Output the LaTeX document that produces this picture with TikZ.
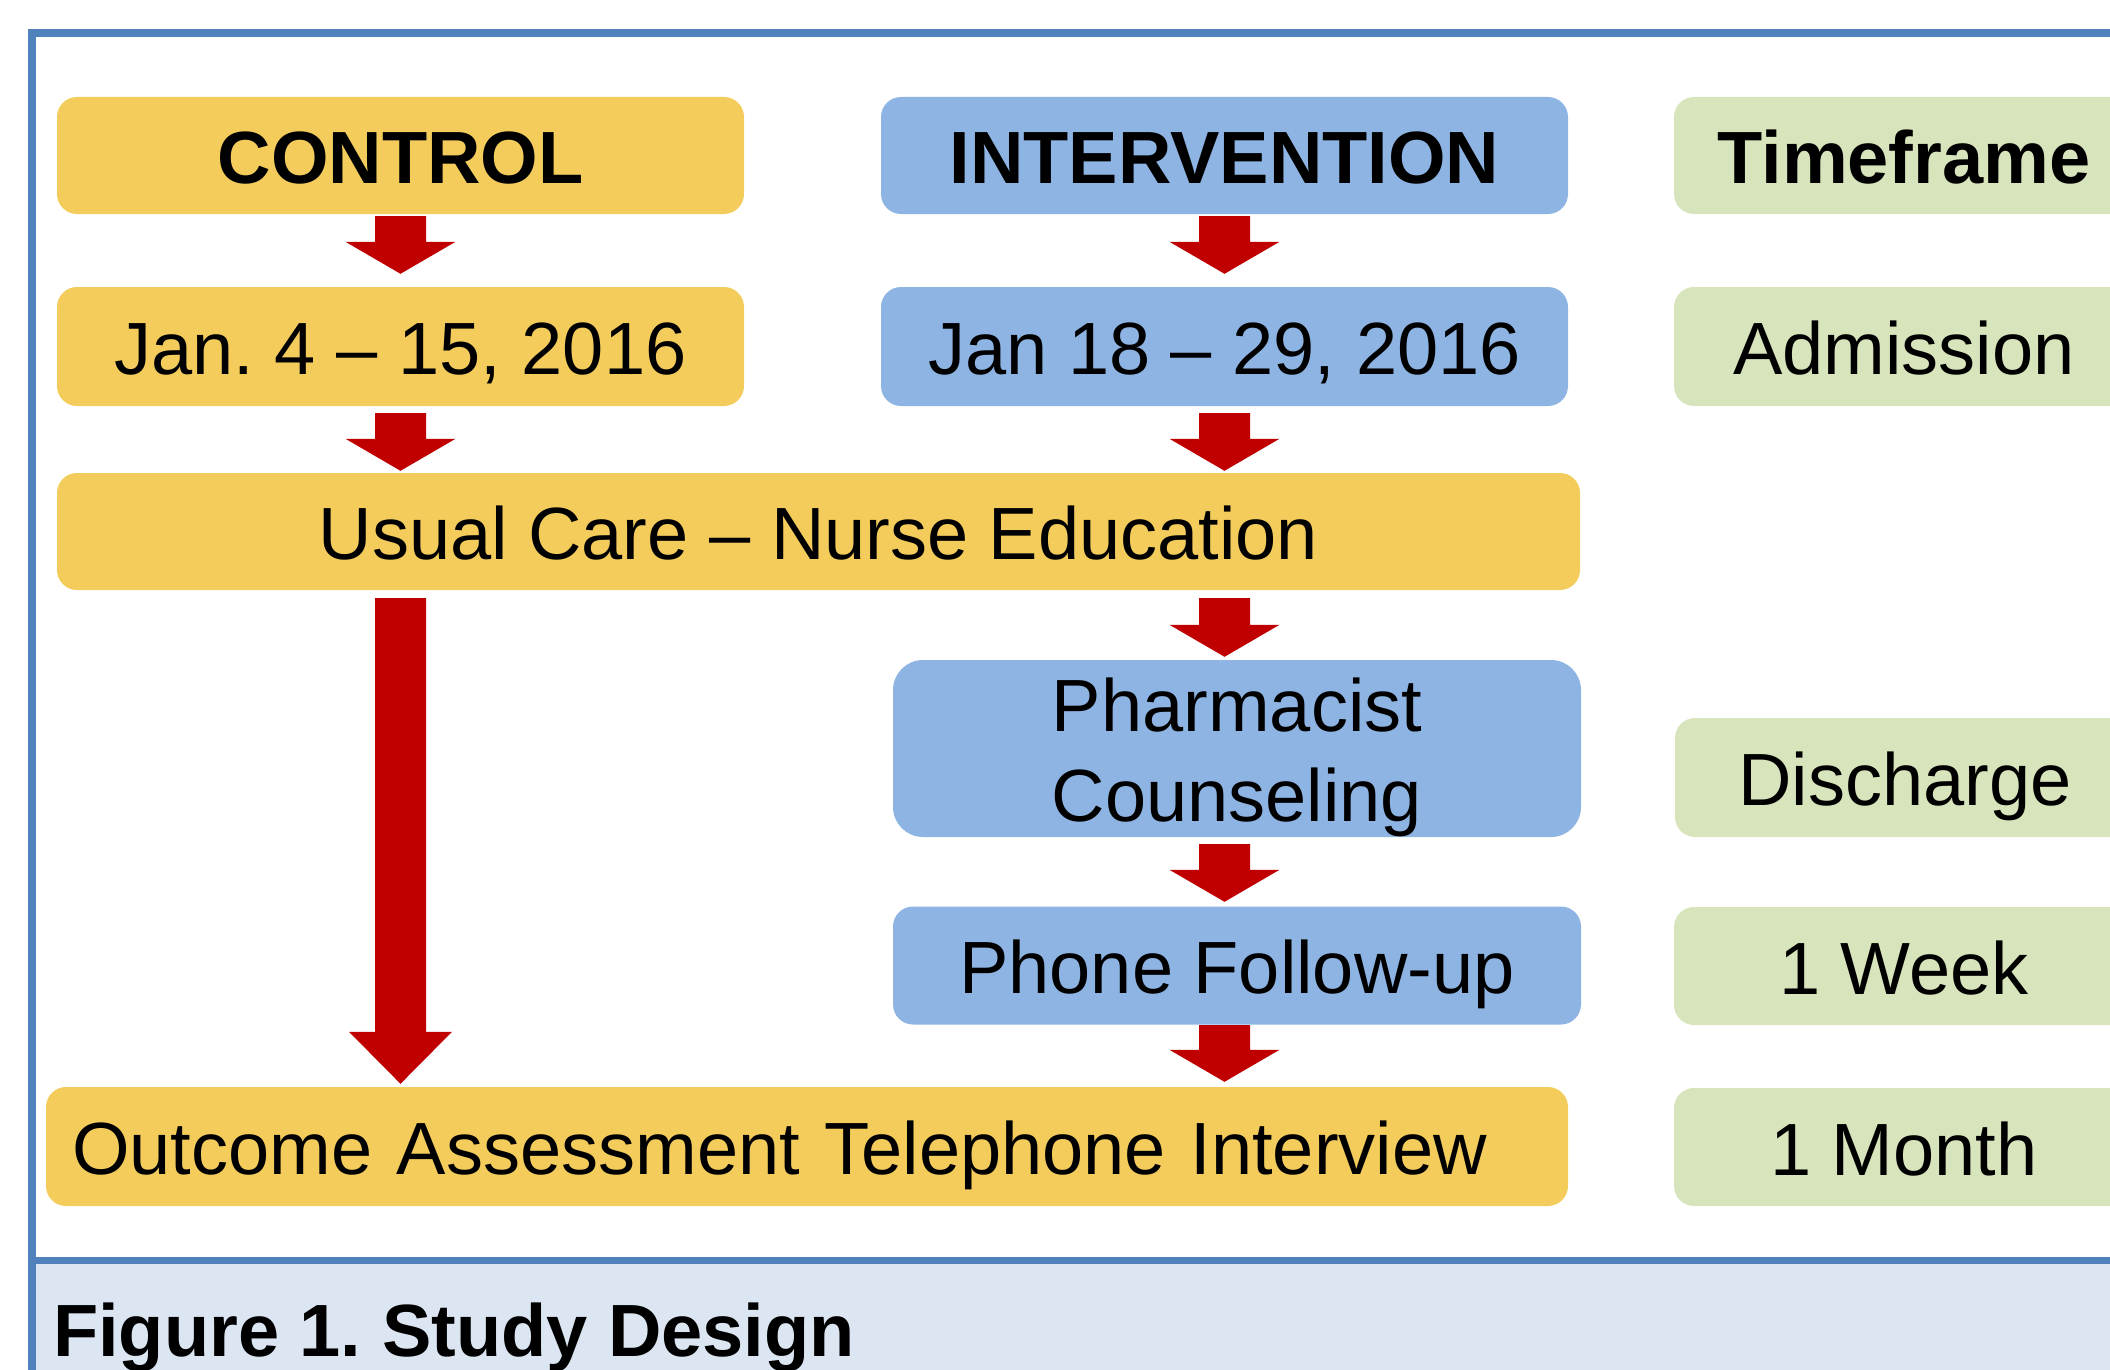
\documentclass[tikz,border=0pt]{standalone}
\usepackage{fontspec}
\setmainfont{Liberation Sans}
\usetikzlibrary{calc}
\frenchspacing

\definecolor{ctrlyellow}{HTML}{F3CC5C}
\definecolor{intblue}{HTML}{8EB4E3}
\definecolor{timegreen}{HTML}{D8E4BC}
\definecolor{arrowred}{HTML}{C00000}
\definecolor{frameblue}{HTML}{4F81BD}
\definecolor{captionbg}{HTML}{DCE6F2}

\tikzset{
  bigfont/.style={font=\fontsize{74}{90}\selectfont},
  box/.style={bigfont, rounded corners=20pt, inner sep=0pt, draw=none,
              text height=56pt, text depth=0pt},
  ctrlbox/.style={box, fill=ctrlyellow},
  intbox/.style={box, fill=intblue},
  timebox/.style={box, fill=timegreen, minimum width=460pt},
  headtext/.style={font=\fontsize{74}{90}\selectfont\bfseries},
  arrowfill/.style={fill=arrowred, draw=none},
}

% block arrow: #1 column coordinate, #2 source node, #3 target node,
% #4 gap below source, #5 gap above target, #6 head half width, #7 head length
\newcommand{\redarrow}[7]{%
  \fill[arrowfill] let \p1=(#2.south -| #1), \p2=(#3.north -| #1) in
    (\x1-25.5pt,\y1-#4pt) -- (\x1+25.5pt,\y1-#4pt)
    -- (\x1+25.5pt,\y2+#5pt+#7pt) -- (\x1+#6pt,\y2+#5pt+#7pt)
    -- (\x1,\y2+#5pt)
    -- (\x1-#6pt,\y2+#5pt+#7pt) -- (\x1-25.5pt,\y2+#5pt+#7pt) -- cycle;
}

\begin{document}
\begin{tikzpicture}[x=1pt, y=-1pt]
  \useasboundingbox (0,0) rectangle (2110,1370);
  \clip (0,0) rectangle (2110,1370);

  % caption band and frame
  \fill[captionbg] (36,1264) rectangle (2110,1370);
  \draw[frameblue, line width=8pt] (32,1375) -- (32,33.5) -- (2115,33.5);
  \draw[frameblue, line width=7pt] (32,1260.5) -- (2115,1260.5);

  % column anchors for the arrows
  \coordinate (colC) at (400.5,0);
  \coordinate (colI) at (1224.5,0);

  % control column
  \node[ctrlbox, headtext, minimum width=687pt, minimum height=117pt] (control) at (400.5,155.5) {CONTROL};
  \node[ctrlbox, minimum width=687pt, minimum height=119pt] (jan4) at (400.5,346.5) {Jan. 4 -- 15, 2016};

  % intervention column
  \node[intbox, headtext, minimum width=687pt, minimum height=117pt] (interv) at (1224.5,155.5) {INTERVENTION};
  \node[intbox, minimum width=687pt, minimum height=119pt] (jan18) at (1224.5,346.5) {Jan 18 -- 29, 2016};

  % shared usual care
  \node[ctrlbox, minimum width=1523pt, minimum height=117pt] (usual) at (818.5,531.5) {Usual Care -- Nurse Education};

  \node[intbox, rounded corners=30pt, minimum width=688pt, minimum height=177pt,
        text width=680pt, align=center, text height=20pt, text depth=55pt] (pharm) at (1237,748.5) {Pharmacist\\Counseling};
  \node[intbox, minimum width=688pt, minimum height=118pt] (phone) at (1237,965.5) {Phone Follow-up};

  \node[ctrlbox, minimum width=1522pt, minimum height=119pt, inner xsep=26pt,
        text width=1470pt, align=left] (outcome) at (807,1146.5) {Outcome Assessment Telephone Interview};

  % timeframe column
  \node[timebox, headtext, minimum height=117pt] (tf) at (1904,155.5) {Timeframe};
  \node[timebox, minimum height=119pt] (adm) at (1904,346.5) {Admission};
  \node[timebox, minimum height=119pt] (disch) at (1905,777.5) {Discharge};
  \node[timebox, minimum height=118pt] (week) at (1904,966) {1 Week};
  \node[timebox, minimum height=118pt] (month) at (1904,1147) {1 Month};

  % arrows
  \redarrow{colC}{control}{jan4}{2}{13}{55}{32}
  \redarrow{colC}{jan4}{usual}{7}{2}{55}{32}
  \redarrow{colI}{interv}{jan18}{2}{13}{55}{32}
  \redarrow{colI}{jan18}{usual}{7}{2}{55}{32}
  \redarrow{colI}{usual}{pharm}{8}{3}{55}{32}
  \redarrow{colI}{pharm}{phone}{7}{4.5}{55}{32}
  \redarrow{colI}{phone}{outcome}{0.5}{5}{55}{32}
  \redarrow{colC}{usual}{outcome}{8}{3}{51.5}{52}

  % caption
  \node[headtext, anchor=base west, inner sep=0pt] (caption) at (53,1356) {Figure 1. Study Design};
\end{tikzpicture}
\end{document}
